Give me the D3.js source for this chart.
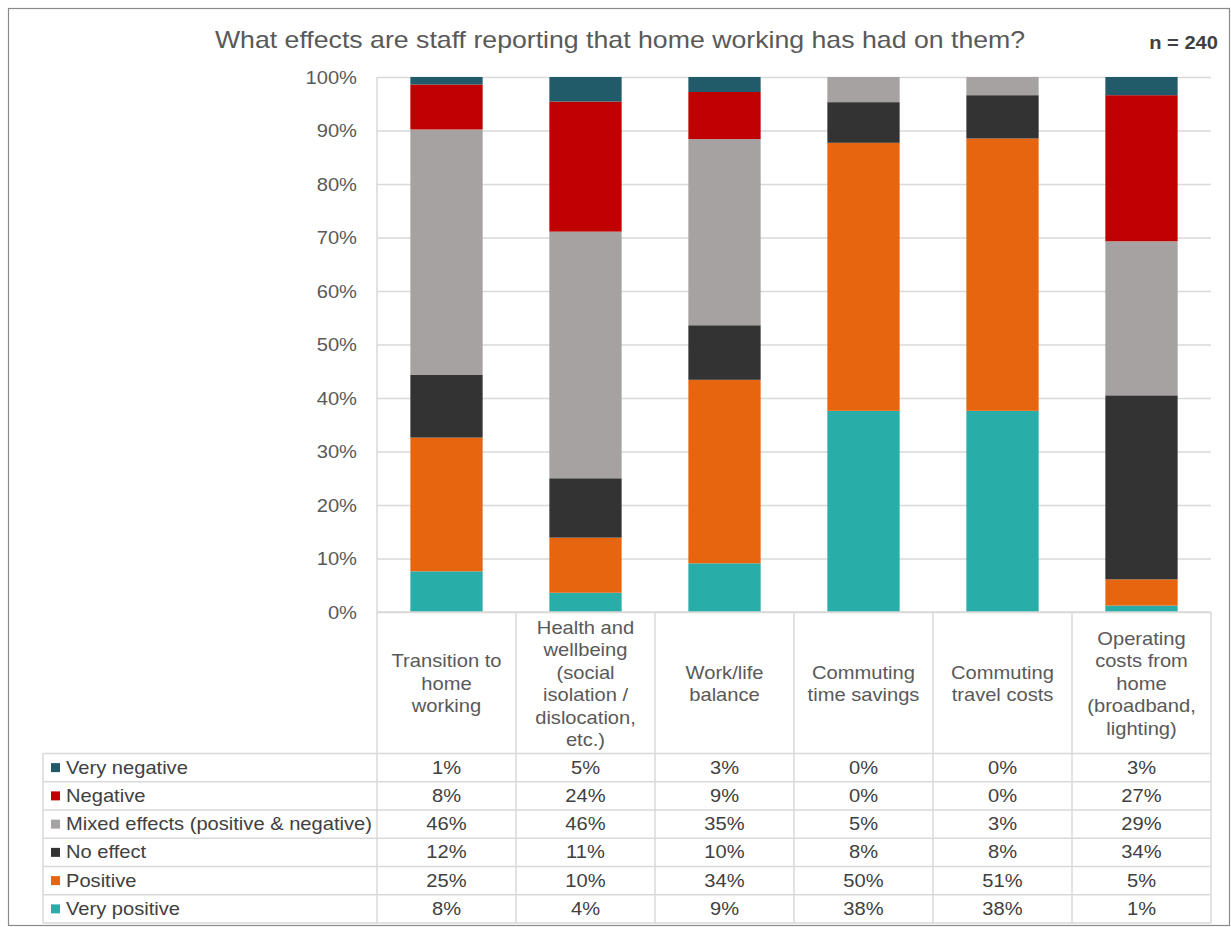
<!DOCTYPE html>
<html>
<head>
<meta charset="utf-8">
<script src="https://cdn.jsdelivr.net/npm/d3@7"></script>
<style>
  html, body { margin: 0; padding: 0; background: #ffffff; }
  svg { display: block; font-family: "Liberation Sans", Arial, sans-serif; }
</style>
</head>
<body>
<svg id="chart" width="1231" height="927"></svg>
<script>
// Survey categories (column labels, one entry per line)
const categories = [
  "Transition to home working",
  "Health and wellbeing",
  "Work/life balance",
  "Commuting time savings",
  "Commuting travel costs",
  "Operating costs from home"
];
const categoryLines = [
  ["Transition to", "home", "working"],
  ["Health and", "wellbeing", "(social", "isolation /", "dislocation,", "etc.)"],
  ["Work/life", "balance"],
  ["Commuting", "time savings"],
  ["Commuting", "travel costs"],
  ["Operating", "costs from", "home", "(broadband,", "lighting)"]
];

// Response shares in percent, stacked from the bottom up
const seriesNames = [
  "Very positive",
  "Positive",
  "No effect",
  "Mixed effects (positive & negative)",
  "Negative",
  "Very negative"
];
const veryPositive = [7.6, 3.6, 9.1, 37.6, 37.6, 1.2];
const positive     = [25.0, 10.3, 34.3, 50.1, 50.9, 4.9];
const noEffect     = [11.7, 11.1, 10.2, 7.6, 8.1, 34.4];
const mixed        = [45.9, 46.1, 34.8, 4.7, 3.4, 28.8];
const negative     = [8.4, 24.3, 8.8, 0, 0, 27.3];
const veryNegative = [1.4, 4.6, 2.8, 0, 0, 3.4];
const seriesValues = [veryPositive, positive, noEffect, mixed, negative, veryNegative];
const seriesColors = ["#28ada8", "#e8650f", "#333333", "#a5a2a1", "#c00000", "#215a69"];

const yTicks = [0, 10, 20, 30, 40, 50, 60, 70, 80, 90, 100];
const titleText = "What effects are staff reporting that home working has had on them?";
const sampleText = "n = 240";

// ---- layout ----
const SX = 1.15;                 // horizontal text stretch
const plot = { left: 377, right: 1211, top: 77, bottom: 612 };
const tableLeft = 43;
const headerBottom = 753.5;
const rowH = 28.25;
const fs = 17.5;

const svg = d3.select("#chart");

function addText(parent, x, y, str, anchor, size, color, weight) {
  return parent.append("text")
    .attr("transform", `translate(${x},${y}) scale(${SX},1)`)
    .attr("text-anchor", anchor || "start")
    .attr("font-size", size || fs)
    .attr("fill", color || "#595959")
    .attr("font-weight", weight || "normal")
    .text(str);
}

// outer frame
svg.append("rect")
  .attr("x", 8.5).attr("y", 8.5)
  .attr("width", 1221).attr("height", 917)
  .attr("fill", "#ffffff")
  .attr("stroke", "#8a8a8a").attr("stroke-width", 1.2);

// scales
const x = d3.scaleBand()
  .domain(categories)
  .range([plot.left, plot.right])
  .paddingInner(0.48)
  .paddingOuter(0.24);
const step = x.step();
const colStart = c => plot.left + categories.indexOf(c) * step;

const y = d3.scaleLinear().domain([0, 100]).range([plot.bottom, plot.top]);

// gridlines
svg.append("g")
  .attr("transform", `translate(${plot.left},0)`)
  .call(d3.axisLeft(y).tickValues(yTicks).tickSize(-(plot.right - plot.left)).tickFormat(""))
  .call(g => g.select(".domain").remove())
  .call(g => g.selectAll(".tick line").attr("stroke", "#d9d9d9").attr("stroke-width", 1.5));

// y axis labels
svg.append("g")
  .attr("transform", `translate(${plot.left},0)`)
  .call(d3.axisLeft(y).tickValues(yTicks).tickSize(0).tickFormat(d => d + "%"))
  .call(g => g.select(".domain").remove())
  .call(g => g.selectAll(".tick text")
    .attr("x", null).attr("dy", null)
    .attr("transform", `translate(-20,6) scale(${SX},1)`)
    .attr("text-anchor", "end")
    .attr("font-family", "Liberation Sans, Arial, sans-serif")
    .attr("font-size", fs)
    .attr("fill", "#595959"));

// stacked bars
const rows = categories.map((c, i) => {
  const r = { category: c };
  seriesNames.forEach((s, j) => { r[s] = seriesValues[j][i]; });
  return r;
});
const stacked = d3.stack().keys(seriesNames)(rows);

svg.append("g").selectAll("g")
  .data(stacked)
  .join("g")
  .attr("fill", (d, i) => seriesColors[i])
  .selectAll("rect")
  .data(d => d)
  .join("rect")
  .attr("x", d => x(d.data.category))
  .attr("width", x.bandwidth())
  .attr("y", d => y(d[1]))
  .attr("height", d => Math.max(0, y(d[0]) - y(d[1])));

// ---- data table ----
const lineColor = "#d9d9d9";
const tableBottom = headerBottom + rowH * seriesNames.length;
const tg = svg.append("g").attr("stroke", lineColor).attr("stroke-width", 1.5);

// horizontal lines
tg.append("line").attr("x1", plot.left).attr("x2", plot.right)
  .attr("y1", plot.bottom).attr("y2", plot.bottom);
d3.range(seriesNames.length + 1).forEach(k => {
  const yy = headerBottom + k * rowH;
  tg.append("line").attr("x1", tableLeft).attr("x2", plot.right)
    .attr("y1", yy).attr("y2", yy);
});
// vertical lines
tg.append("line").attr("x1", plot.left).attr("x2", plot.left)
  .attr("y1", plot.top).attr("y2", tableBottom);
tg.append("line").attr("x1", tableLeft).attr("x2", tableLeft)
  .attr("y1", headerBottom).attr("y2", tableBottom);
categories.forEach(c => {
  const xx = colStart(c) + step;
  tg.append("line").attr("x1", xx).attr("x2", xx)
    .attr("y1", plot.bottom).attr("y2", tableBottom);
});

// category header labels
const headerMid = (plot.bottom + headerBottom) / 2 + 1;
const lineH = 22.5;
categories.forEach((c, i) => {
  const lines = categoryLines[i];
  const cx = colStart(c) + step / 2;
  const y0 = headerMid - (lines.length - 1) * lineH / 2;
  lines.forEach((ln, k) => addText(svg, cx, y0 + k * lineH + 6, ln, "middle", fs, "#595959"));
});

// table rows: top row is the top of the stack
const tableOrder = seriesNames.map((s, j) => j).reverse();
tableOrder.forEach((j, r) => {
  const cy = headerBottom + r * rowH + rowH / 2;
  svg.append("rect")
    .attr("x", 51).attr("y", cy - 4.5)
    .attr("width", 9).attr("height", 9)
    .attr("fill", seriesColors[j]);
  addText(svg, 66, cy + 6, seriesNames[j], "start", fs, "#404040");
  categories.forEach((c, i) => {
    addText(svg, colStart(c) + step / 2, cy + 6,
      Math.round(seriesValues[j][i]) + "%", "middle", fs, "#404040");
  });
});

// title and sample size
addText(svg, 620, 48, titleText, "middle", 23.2, "#595959");
addText(svg, 1218, 49, sampleText, "end", 17.5, "#404040", "bold");
</script>
</body>
</html>
